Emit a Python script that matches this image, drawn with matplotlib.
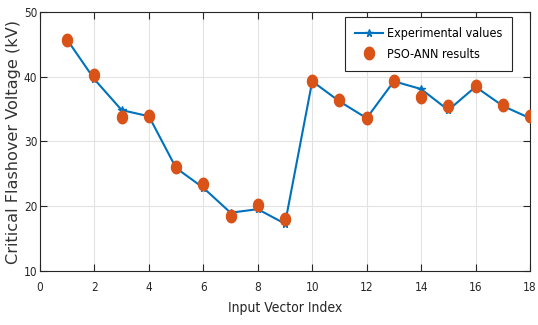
import matplotlib
matplotlib.use("Agg")
import matplotlib.pyplot as plt
import numpy as np
from matplotlib.path import Path
from matplotlib import font_manager as fm

idx = list(range(1, 19))
experimental = [45.7, 39.6, 34.85, 33.9, 25.9, 22.85, 19.0, 19.55, 17.3,
                39.3, 36.2, 33.6, 39.3, 38.1, 34.85, 38.45, 35.5, 33.6]
pso_ann = [45.7, 40.3, 33.8, 34.0, 26.0, 23.4, 18.5, 20.2, 18.0,
           39.4, 36.4, 33.7, 39.4, 36.9, 35.5, 38.5, 35.6, 34.0]
xticks = [0, 2, 4, 6, 8, 10, 12, 14, 16, 18]
yticks = [10, 20, 30, 40, 50]

tickfont = fm.FontProperties(family="DejaVu Sans", stretch="condensed", size=8.5)
legfont = fm.FontProperties(family="DejaVu Sans", stretch="condensed", size=9)
xlabfont = fm.FontProperties(family="DejaVu Sans", stretch="condensed", size=10)

fig = plt.figure(figsize=(5.38, 3.25), dpi=100)
L, R, T, B = 40, 530, 12, 271
ax = fig.add_axes([L / 538, (325 - B) / 325, (R - L) / 538, (B - T) / 325])

t = np.linspace(0, 2 * np.pi, 40)
ell = Path(np.column_stack([0.8 * np.cos(t), np.sin(t)]))

ax.plot(idx, experimental, color="#0072BD", lw=1.5, marker="*", markersize=5.5,
        label="Experimental values", zorder=3)
ax.plot(idx, pso_ann, ls="none", marker=ell, markersize=9, color="#D95319",
        label="PSO-ANN results", zorder=4)

ax.set_xlim(0, 18)
ax.set_ylim(10, 50)
ax.set_xticks(xticks)
ax.set_yticks(yticks)
ax.grid(True, color="#e3e3e3", lw=0.8)
ax.set_axisbelow(True)
ax.tick_params(direction="in", top=True, right=True, length=5, width=0.8,
               colors="#262626")
ax.tick_params(axis="x", pad=7)
ax.tick_params(axis="y", pad=2)
for lab in ax.get_xticklabels() + ax.get_yticklabels():
    lab.set_fontproperties(tickfont)
for s in ax.spines.values():
    s.set_color("#262626")
    s.set_linewidth(0.8)

ax.set_xlabel("Input Vector Index", fontproperties=xlabfont, color="#262626", labelpad=5)
ax.set_ylabel("Critical Flashover Voltage (kV)", fontsize=11.6, family="DejaVu Sans",
              color="#333333")
ax.yaxis.set_label_coords((21 - L) / (R - L), 0.5)

ax_w = R - L
leg = ax.legend(loc="upper right",
                bbox_to_anchor=((512 - L) / ax_w, 1 - (17 - T) / (B - T)),
                prop=legfont, fancybox=False, framealpha=1,
                edgecolor="#262626", borderpad=0.8, handlelength=2.2, labelspacing=0.6,
                handletextpad=0.3, borderaxespad=0)
leg.get_frame().set_linewidth(0.8)

fig.savefig("out.png", dpi=100)
